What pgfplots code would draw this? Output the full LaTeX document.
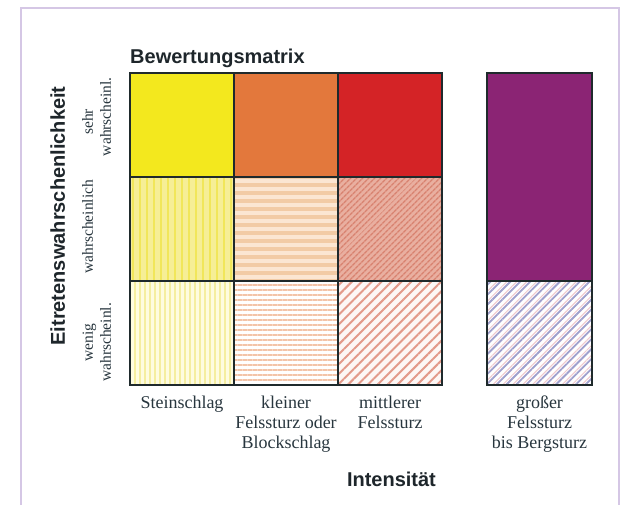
\documentclass[border=0pt]{standalone}
\usepackage{fontspec}
\setmainfont{Liberation Serif}
\newfontfamily\headfont{Liberation Sans}
\usepackage{pgfplots}
\pgfplotsset{compat=1.18}
\usetikzlibrary{patterns.meta}

\definecolor{cFrame}{HTML}{D5C7E5}
\definecolor{cBorder}{HTML}{1F2A2C}
\definecolor{cHead}{HTML}{1E262B}
\definecolor{cLabel}{HTML}{28363E}
\definecolor{cYellow}{HTML}{F3E81E}
\definecolor{cOrange}{HTML}{E3783C}
\definecolor{cRed}{HTML}{D42326}
\definecolor{cPurple}{HTML}{8B2474}

\begin{document}
\begin{tikzpicture}
\begin{axis}[
    scale only axis, width=462pt, height=312pt,
    xmin=0, xmax=4.442, ymin=0, ymax=3,
    hide axis, clip=false,
]
% sehr wahrscheinlich
\addplot[draw=none, fill=cYellow] coordinates {(0,2) (1,2) (1,3) (0,3)} -- cycle;
\addplot[draw=none, fill=cOrange] coordinates {(1,2) (2,2) (2,3) (1,3)} -- cycle;
\addplot[draw=none, fill=cRed] coordinates {(2,2) (3,2) (3,3) (2,3)} -- cycle;
% wahrscheinlich
\addplot[draw=none, fill={rgb,255:red,246;green,238;blue,150},
  postaction={pattern={Lines[angle=90, distance=7pt, line width=2.5pt]},
    pattern color={rgb,255:red,241;green,230;blue,90}}]
  coordinates {(0,1) (1,1) (1,2) (0,2)} -- cycle;
\addplot[draw=none, fill={rgb,255:red,251;green,230;blue,210},
  postaction={pattern={Lines[angle=0, distance=8pt, line width=3.5pt]},
    pattern color={rgb,255:red,242;green,203;blue,165}}]
  coordinates {(1,1) (2,1) (2,2) (1,2)} -- cycle;
\addplot[draw=none, fill={rgb,255:red,233;green,175;blue,160},
  postaction={pattern={Lines[angle=45, distance=4pt, line width=1.5pt]},
    pattern color={rgb,255:red,216;green,130;blue,111}}]
  coordinates {(2,1) (3,1) (3,2) (2,2)} -- cycle;
% wenig wahrscheinlich
\addplot[draw=none, fill={rgb,255:red,254;green,252;blue,224},
  postaction={pattern={Lines[angle=90, distance=5pt, line width=1.5pt]},
    pattern color={rgb,255:red,245;green,238;blue,160}}]
  coordinates {(0,0) (1,0) (1,1) (0,1)} -- cycle;
\addplot[draw=none, fill=white,
  postaction={pattern={Lines[angle=0, distance=5pt, line width=1.2pt]},
    pattern color={rgb,255:red,243;green,196;blue,168}}]
  coordinates {(1,0) (2,0) (2,1) (1,1)} -- cycle;
\addplot[draw=none, fill={rgb,255:red,253;green,247;blue,245},
  postaction={pattern={Lines[angle=45, distance=7pt, line width=2pt]},
    pattern color={rgb,255:red,227;green,154;blue,138}}]
  coordinates {(2,0) (3,0) (3,1) (2,1)} -- cycle;
% grosser Felssturz bis Bergsturz
\addplot[draw=none, fill=cPurple] coordinates {(3.433,1) (4.442,1) (4.442,3) (3.433,3)} -- cycle;
\addplot[draw=none, fill=white,
  postaction={pattern={Lines[angle=45, distance=7pt, line width=1.8pt]},
    pattern color={rgb,255:red,160;green,160;blue,205}},
  postaction={pattern={Lines[angle=45, distance=7pt, line width=1pt, yshift=3.5pt]},
    pattern color={rgb,255:red,240;green,200;blue,205}}]
  coordinates {(3.433,0) (4.442,0) (4.442,1) (3.433,1)} -- cycle;

% cell borders
\addplot[draw=cBorder, line width=2pt] coordinates {(0,0) (3,0) (3,3) (0,3)} -- cycle;
\addplot[draw=cBorder, line width=2pt] coordinates {(1,0) (1,3)};
\addplot[draw=cBorder, line width=2pt] coordinates {(2,0) (2,3)};
\addplot[draw=cBorder, line width=2pt] coordinates {(0,1) (3,1)};
\addplot[draw=cBorder, line width=2pt] coordinates {(0,2) (3,2)};
\addplot[draw=cBorder, line width=2pt] coordinates {(3.433,0) (4.442,0) (4.442,3) (3.433,3)} -- cycle;
\addplot[draw=cBorder, line width=2pt] coordinates {(3.433,1) (4.442,1)};

% titles
\node[font=\headfont\bfseries\fontsize{20}{24}\selectfont, text=cHead,
  anchor=base west, inner sep=0] at (0,3.096) {Bewertungsmatrix};
\node[font=\headfont\bfseries\fontsize{20}{24}\selectfont, text=cHead,
  anchor=base, inner sep=0] at (2.514,-0.981) {Intensität};
\node[font=\headfont\bfseries\fontsize{20}{24}\selectfont, text=cHead,
  anchor=base, inner sep=0, rotate=90] at (-0.625,1.625) {Eitretenswahrschenlichkeit};

% row labels
\begin{scope}[every node/.style={font=\fontsize{15.5}{18}\selectfont, text=cLabel,
  anchor=base, inner sep=0, rotate=90}]
\node at (-0.356,2.53) {sehr};
\node at (-0.183,2.58) {wahrscheinl.};
\node at (-0.356,1.52) {wahrscheinlich};
\node at (-0.356,0.41) {wenig};
\node at (-0.183,0.41) {wahrscheinl.};
\end{scope}

% column labels
\begin{scope}[every node/.style={font=\fontsize{18}{20}\selectfont, text=cLabel,
  anchor=north, inner sep=0, align=center}]
\node at (0.5,-0.106) {Steinschlag};
\node at (1.5,-0.106) {kleiner\\Felssturz oder\\Blockschlag};
\node at (2.5,-0.106) {mittlerer\\Felssturz};
\node at (3.9375,-0.106) {großer\\Felssturz\\bis Bergsturz};
\end{scope}

% frame
\draw[cFrame, line width=1.5pt] (-1.048,-1.4) -- (-1.048,3.625) -- (4.702,3.625) -- (4.702,-1.4);

\coordinate (bbSW) at (-1.25,-1.1538);
\coordinate (bbNE) at (4.7404,3.7019);
\end{axis}
\pgfresetboundingbox
\path[use as bounding box] (bbSW) rectangle (bbNE);
\end{tikzpicture}
\end{document}
